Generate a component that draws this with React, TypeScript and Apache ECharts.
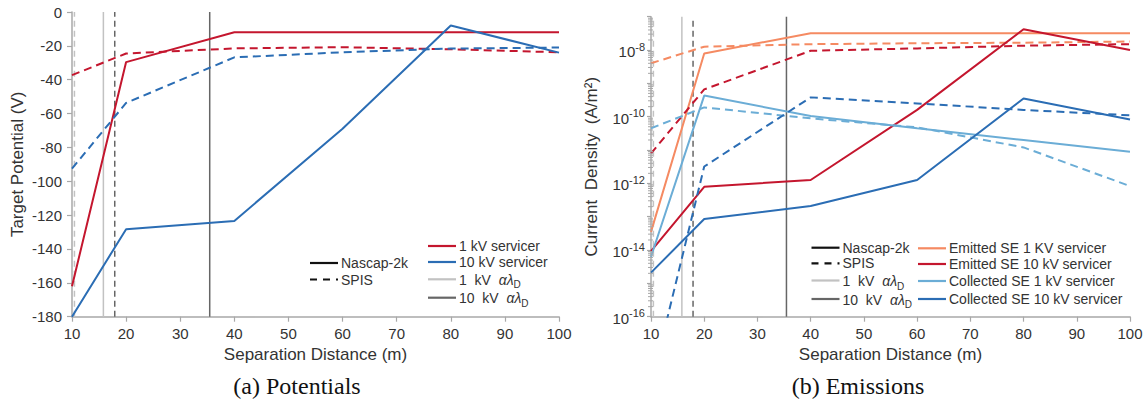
import React, { useEffect, useRef } from "react";
import * as echarts from "echarts";

// ---------- data ----------
const distances = [10, 20, 40, 60, 80, 100];

// (a) Potentials (V)
const pot1kvNascap = [-162, -29.6, -12, -12, -12, -12];
const pot1kvSpis = [-37.3, -24.5, -21.5, -20.8, -22, -23.8];
const pot10kvNascap = [-180, -128.3, -123.4, -69, -8, -24];
const pot10kvSpis = [-92.5, -53.7, -26.8, -23.8, -21.6, -21];

// (b) Emissions (A/m^2)
const emit1kvNascap = [3.5e-14, 7.9e-9, 3.2e-8, 3.2e-8, 3.2e-8, 3.2e-8];
const emit1kvSpis = [4.0e-9, 1.26e-8, 1.5e-8, 1.6e-8, 1.66e-8, 1.8e-8];
const emit10kvNascap = [9.3e-15, 7.9e-13, 1.26e-12, 1.6e-10, 4.2e-8, 1.0e-8];
const emit10kvSpis = [7.9e-12, 6.6e-10, 9.5e-9, 1.12e-8, 1.35e-8, 1.5e-8];
const coll1kvNascap = [6.3e-15, 4.3e-10, 1.05e-10, 4.5e-11, 2.0e-11, 8.9e-12];
const coll1kvSpis = [4.5e-11, 1.9e-10, 8.9e-11, 4.8e-11, 1.2e-11, 8.3e-13];
const coll10kvNascap = [2.1e-15, 8.5e-14, 2.1e-13, 1.26e-12, 3.5e-10, 8.3e-11];
const coll10kvSpis = [8.9e-19, 3.2e-12, 3.8e-10, 2.5e-10, 1.6e-10, 1.1e-10];

// alpha * lambda_D separation distances (m)
const lambda1kvNascap = 15.8;
const lambda1kvSpis = 10.45;
const lambda10kvNascap = 35.45;
const lambda10kvSpis = 17.9;

const potRange = [-180, 0];
const curRange = [1e-16, 1e-7];
// log-axis minor tick mantissas
const minorMantissas = [2, 3, 4, 5, 6, 7, 8, 9];
const decadeExponents = [-16, -15, -14, -13, -12, -11, -10, -9, -8];

// ---------- styles ----------
const RED = "#c4162e";
const BLUE = "#2b6db4";
const ORANGE = "#f58a62";
const LIGHTBLUE = "#6badd6";
const LIGHTGRAY = "#c2c2c2";
const DARKGRAY = "#666666";
const TEXT = "#333333";
const AXIS = "#a8a8a8";
const FONT = "'Liberation Sans', Arial, sans-serif";
const DASH = [8, 5];
const VDASH = [6, 4];

const pair = (ys: number[]) => distances.map((x, i) => [x, ys[i]]);

function lineSeries(name: string, ys: number[], color: string, dashed: boolean, idx: number) {
  return {
    name,
    type: "line",
    xAxisIndex: idx,
    yAxisIndex: idx,
    data: pair(ys),
    showSymbol: false,
    symbol: "none",
    clip: true,
    z: 3,
    lineStyle: { color, width: 2, type: dashed ? DASH : "solid" },
  };
}

function vLine(x: number, range: number[], color: string, dashed: boolean, idx: number) {
  return {
    type: "line",
    xAxisIndex: idx,
    yAxisIndex: idx,
    data: [
      [x, range[0]],
      [x, range[1]],
    ],
    showSymbol: false,
    symbol: "none",
    z: 2,
    lineStyle: { color, width: 1.5, type: dashed ? VDASH : "solid" },
  };
}

function legendLine(x: number, y: number, color: string, dashed: boolean) {
  return {
    type: "line",
    shape: { x1: x, y1: y, x2: x + 28, y2: y },
    style: { stroke: color, lineWidth: 2.2, lineDash: dashed ? [7, 6] : null },
    z: 10,
  };
}

function legendText(x: number, y: number, text: string) {
  return {
    type: "text",
    x,
    y,
    style: { text, fill: TEXT, font: `14px ${FONT}`, textVerticalAlign: "middle" },
    z: 10,
  };
}

function lambdaText(x: number, y: number, kv: string) {
  return {
    type: "text",
    x,
    y: y + 2,
    style: {
      text: `{n|${kv}  kV  }{i|αλ}{d|D}`,
      fill: TEXT,
      textVerticalAlign: "middle",
      rich: {
        n: { fontSize: 14, fontFamily: FONT, fill: TEXT, verticalAlign: "bottom", padding: [0, 0, 3, 0] },
        i: { fontSize: 14, fontFamily: FONT, fontStyle: "italic", fill: TEXT, verticalAlign: "bottom", padding: [0, 0, 3, 0] },
        d: { fontSize: 10, fontFamily: FONT, fill: TEXT, verticalAlign: "bottom" },
      },
    },
    z: 10,
  };
}

function legendBlock(lx: number, rows: number[]) {
  return [
    legendLine(lx, rows[0], "#111", false),
    legendText(lx + 31, rows[0], "Nascap-2k"),
    legendLine(lx, rows[1], "#111", true),
    legendText(lx + 31, rows[1], "SPIS"),
    legendLine(lx, rows[2], LIGHTGRAY, false),
    lambdaText(lx + 31, rows[2], "1"),
    legendLine(lx, rows[3], DARKGRAY, false),
    lambdaText(lx + 31, rows[3], "10"),
  ];
}

function caption(x: number, text: string) {
  return {
    type: "text",
    x,
    y: 386,
    style: {
      text,
      fill: "#111",
      font: "24px 'Liberation Serif', 'DejaVu Serif', serif",
      textAlign: "center",
      textVerticalAlign: "middle",
    },
  };
}

export default function App() {
  const ref = useRef<HTMLDivElement>(null);

  useEffect(() => {
    if (!ref.current) return;
    const chart = echarts.init(ref.current, null, { renderer: "svg" });

    const xAxisCommon = {
      type: "value",
      min: 10,
      max: 100,
      interval: 10,
      name: "Separation Distance (m)",
      nameLocation: "middle",
      nameGap: 28,
      nameTextStyle: { fontSize: 17, fontFamily: FONT, color: TEXT },
      axisLine: { show: true, onZero: false, lineStyle: { color: AXIS, width: 1.5 } },
      axisTick: { show: true, length: 5, lineStyle: { color: AXIS, width: 1.2 } },
      axisLabel: { fontSize: 15, fontFamily: FONT, color: TEXT, margin: 9 },
      splitLine: { show: false },
    };

    const minorTickData: number[][] = [];
    decadeExponents.forEach((e) =>
      minorMantissas.forEach((m) => minorTickData.push([10, Number((m * Math.pow(10, e)).toPrecision(3))]))
    );

    const option = {
      animation: false,
      backgroundColor: "#ffffff",
      grid: [
        { left: 72, top: 12, width: 487, height: 304.7, containLabel: false },
        { left: 651, top: 16.7, width: 479, height: 300, containLabel: false },
      ],
      xAxis: [
        { ...xAxisCommon, gridIndex: 0 },
        { ...xAxisCommon, gridIndex: 1 },
      ],
      yAxis: [
        {
          gridIndex: 0,
          type: "value",
          min: potRange[0],
          max: potRange[1],
          interval: 20,
          name: "Target Potential (V)",
          nameLocation: "middle",
          nameGap: 46,
          nameTextStyle: { fontSize: 17, fontFamily: FONT, color: TEXT },
          axisLine: { show: true, onZero: false, lineStyle: { color: AXIS, width: 1.5 } },
          axisTick: { show: true, length: 5, lineStyle: { color: AXIS, width: 1.2 } },
          axisLabel: { fontSize: 15, fontFamily: FONT, color: TEXT, margin: 10 },
          splitLine: { show: false },
        },
        {
          gridIndex: 1,
          type: "log",
          logBase: 10,
          min: curRange[0],
          max: curRange[1],
          name: "Current  Density  (A/m²)",
          nameLocation: "middle",
          nameGap: 51,
          nameTextStyle: { fontSize: 17, fontFamily: FONT, color: TEXT },
          axisLine: { show: true, onZero: false, lineStyle: { color: AXIS, width: 1.5 } },
          axisTick: { show: true, length: 4, lineStyle: { color: AXIS, width: 1.2 } },
          axisLabel: {
            margin: 6,
            color: TEXT,
            formatter: (v: number) => {
              const e = Math.round(Math.log10(v));
              if (e % 2 !== 0) return "";
              return `{b|10}{s|${e}}`;
            },
            rich: {
              b: { fontSize: 15, fontFamily: FONT, color: TEXT, verticalAlign: "bottom" },
              s: { fontSize: 11, fontFamily: FONT, color: TEXT, verticalAlign: "bottom", padding: [0, 0, 7, 0] },
            },
          },
          splitLine: { show: false },
        },
      ],
      series: [
        vLine(lambda1kvSpis, potRange, LIGHTGRAY, true, 0),
        vLine(lambda1kvNascap, potRange, LIGHTGRAY, false, 0),
        vLine(lambda10kvSpis, potRange, DARKGRAY, true, 0),
        vLine(lambda10kvNascap, potRange, DARKGRAY, false, 0),
        lineSeries("1 kV servicer Nascap", pot1kvNascap, RED, false, 0),
        lineSeries("1 kV servicer SPIS", pot1kvSpis, RED, true, 0),
        lineSeries("10 kV servicer Nascap", pot10kvNascap, BLUE, false, 0),
        lineSeries("10 kV servicer SPIS", pot10kvSpis, BLUE, true, 0),

        vLine(lambda1kvSpis, curRange, LIGHTGRAY, true, 1),
        vLine(lambda1kvNascap, curRange, LIGHTGRAY, false, 1),
        vLine(lambda10kvSpis, curRange, DARKGRAY, true, 1),
        vLine(lambda10kvNascap, curRange, DARKGRAY, false, 1),
        lineSeries("Emitted SE 1 kV Nascap", emit1kvNascap, ORANGE, false, 1),
        lineSeries("Emitted SE 1 kV SPIS", emit1kvSpis, ORANGE, true, 1),
        lineSeries("Emitted SE 10 kV Nascap", emit10kvNascap, RED, false, 1),
        lineSeries("Emitted SE 10 kV SPIS", emit10kvSpis, RED, true, 1),
        lineSeries("Collected SE 1 kV Nascap", coll1kvNascap, LIGHTBLUE, false, 1),
        lineSeries("Collected SE 1 kV SPIS", coll1kvSpis, LIGHTBLUE, true, 1),
        lineSeries("Collected SE 10 kV Nascap", coll10kvNascap, BLUE, false, 1),
        lineSeries("Collected SE 10 kV SPIS", coll10kvSpis, BLUE, true, 1),
        {
          type: "custom",
          xAxisIndex: 1,
          yAxisIndex: 1,
          silent: true,
          clip: false,
          z: 4,
          data: minorTickData,
          renderItem: (params: any, api: any) => {
            const p = api.coord([api.value(0), api.value(1)]);
            return {
              type: "line",
              shape: { x1: p[0] - 3, y1: p[1], x2: p[0] + 2, y2: p[1] },
              style: { stroke: AXIS, lineWidth: 1 },
            };
          },
        },
      ],
      graphic: [
        ...legendBlock(310, [263, 279.5, 296, 312]).slice(0, 4),
        legendLine(428, 246, RED, false),
        legendText(459, 246, "1 kV servicer"),
        legendLine(428, 262, BLUE, false),
        legendText(459, 262, "10 kV servicer"),
        legendLine(428, 279.3, LIGHTGRAY, false),
        lambdaText(459, 279.3, "1"),
        legendLine(428, 297.7, DARKGRAY, false),
        lambdaText(459, 297.7, "10"),
        ...legendBlock(811.5, [247.7, 263.3, 280.5, 299]),
        legendLine(918, 248.3, ORANGE, false),
        legendText(949, 248.3, "Emitted SE 1 KV servicer"),
        legendLine(918, 264, RED, false),
        legendText(949, 264, "Emitted SE 10 kV servicer"),
        legendLine(918, 281, LIGHTBLUE, false),
        legendText(949, 281, "Collected SE 1 kV servicer"),
        legendLine(918, 299, BLUE, false),
        legendText(949, 299, "Collected SE 10 kV servicer"),
        caption(297, "(a) Potentials"),
        caption(858, "(b) Emissions"),
      ],
    };

    chart.setOption(option as any);
    return () => chart.dispose();
  }, []);

  return (
    <div
      ref={ref}
      style={{ position: "absolute", left: 0, top: 0, width: 1148, height: 409, background: "#fff" }}
    />
  );
}
